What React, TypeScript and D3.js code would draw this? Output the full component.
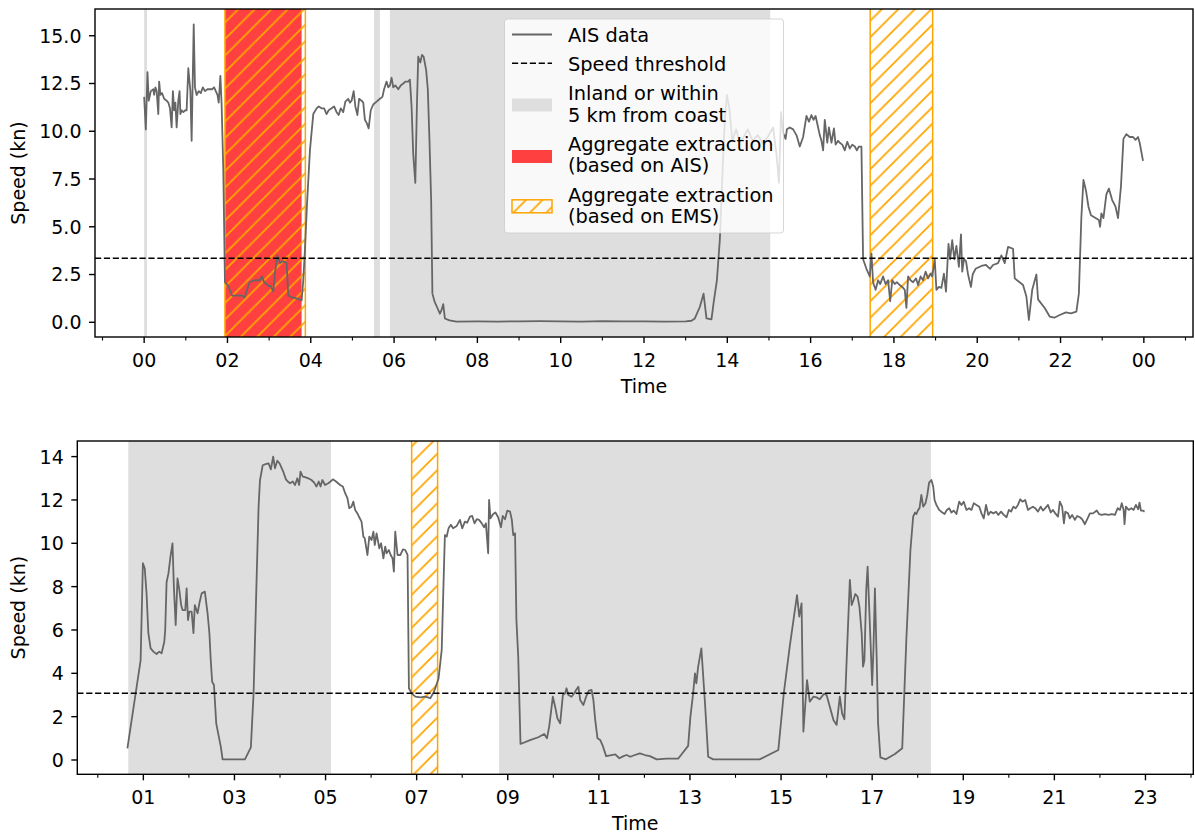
import React from "react";
import * as d3 from "d3";

// Ship speed from AIS over two days, with coastal zones and extraction windows.

const FONT = "DejaVu Sans, Verdana, sans-serif";
const FS = 19;
const DASH = "6.2 2.7";

// ---- day 1 (top panel) ----
const day1Speed: [number, number][] = [
  [0.0, 11.8], [0.04, 10.1], [0.08, 13.1], [0.11, 11.6], [0.16, 12.1], [0.22, 12.2], [0.24, 11.9],
  [0.27, 12.3], [0.3, 12.1], [0.34, 10.9], [0.36, 12.6], [0.39, 11.9], [0.43, 12.0], [0.48, 11.7],
  [0.54, 11.6], [0.58, 11.5], [0.62, 11.2], [0.66, 10.2], [0.69, 12.1], [0.72, 11.1], [0.75, 11.5],
  [0.78, 10.2], [0.82, 11.6], [0.85, 12.1], [0.87, 10.9], [0.9, 11.1], [0.94, 11.0], [0.99, 11.1],
  [1.02, 11.1], [1.06, 13.3], [1.11, 12.1], [1.14, 9.5], [1.19, 15.6], [1.22, 12.3], [1.26, 11.9],
  [1.31, 12.1], [1.36, 12.0], [1.41, 12.3], [1.46, 12.1], [1.52, 12.2], [1.58, 12.2], [1.63, 12.2],
  [1.68, 12.3], [1.72, 12.1], [1.76, 11.9], [1.79, 11.5], [1.83, 12.9], [1.86, 11.4], [1.9, 8.0],
  [1.94, 2.1], [2.02, 1.9], [2.11, 1.4], [2.21, 1.4], [2.35, 1.4], [2.41, 1.3], [2.53, 2.1],
  [2.65, 2.2], [2.77, 2.2], [2.83, 2.4], [2.88, 2.1], [2.94, 2.0], [2.99, 1.9], [3.04, 1.9],
  [3.1, 1.6], [3.14, 2.6], [3.2, 3.5], [3.26, 3.1], [3.33, 3.2], [3.42, 3.1], [3.46, 1.4],
  [3.55, 1.3], [3.66, 1.25], [3.78, 1.15], [3.82, 2.2], [3.86, 3.8], [3.91, 6.2], [3.98, 9.0],
  [4.06, 10.9], [4.14, 11.2], [4.19, 11.3], [4.26, 11.2], [4.32, 11.2], [4.38, 10.9], [4.43, 11.1],
  [4.5, 11.2], [4.56, 11.3], [4.62, 11.0], [4.67, 10.85], [4.72, 11.2], [4.78, 11.0], [4.83, 11.55],
  [4.9, 11.7], [4.94, 11.5], [4.98, 11.6], [5.03, 12.1], [5.07, 11.3], [5.12, 10.85], [5.16, 11.7],
  [5.22, 11.6], [5.26, 11.5], [5.3, 10.6], [5.35, 10.4], [5.39, 10.15], [5.44, 11.1], [5.5, 11.4],
  [5.58, 11.55], [5.66, 11.7], [5.72, 11.8], [5.76, 12.2], [5.82, 12.6], [5.86, 12.3], [5.9, 12.4],
  [5.94, 12.8], [5.98, 12.3], [6.03, 12.4], [6.1, 12.2], [6.16, 12.4], [6.22, 12.5], [6.27, 12.6],
  [6.34, 12.6], [6.38, 12.7], [6.42, 11.3], [6.46, 8.8], [6.51, 7.3], [6.55, 11.5], [6.58, 13.9],
  [6.63, 13.6], [6.67, 14.0], [6.71, 13.9], [6.77, 13.2], [6.81, 12.2], [6.85, 9.5], [6.89, 6.4],
  [6.92, 1.5], [6.97, 1.1], [7.03, 0.8], [7.1, 0.45], [7.14, 0.65], [7.18, 0.95], [7.22, 0.2],
  [7.33, 0.1], [7.5, 0.04], [8.0, 0.05], [8.5, 0.04], [9.0, 0.05], [9.5, 0.06], [10.0, 0.05],
  [10.5, 0.04], [11.0, 0.06], [11.5, 0.05], [12.0, 0.05], [12.5, 0.04], [13.0, 0.05], [13.14, 0.08],
  [13.22, 0.2], [13.34, 0.8], [13.43, 1.5], [13.5, 0.2], [13.62, 0.15], [13.67, 1.0], [13.75, 2.2],
  [13.82, 4.3], [13.88, 7.6], [13.94, 10.6], [13.99, 11.9], [14.05, 11.2], [14.12, 9.5], [14.21, 10.1],
  [14.29, 9.5], [14.37, 9.6], [14.49, 10.1], [14.61, 9.5], [14.73, 9.8], [14.85, 9.4], [14.97, 9.7],
  [15.1, 10.2], [15.18, 8.8], [15.24, 7.3], [15.29, 11.0], [15.34, 9.9], [15.4, 9.6], [15.43, 10.1],
  [15.5, 10.2], [15.58, 10.1], [15.66, 9.8], [15.74, 9.2], [15.82, 9.7], [15.9, 10.8], [15.96, 10.5],
  [16.02, 10.85], [16.07, 10.6], [16.12, 10.8], [16.18, 10.2], [16.22, 9.8], [16.26, 9.5], [16.3, 9.0],
  [16.34, 10.6], [16.4, 9.4], [16.44, 10.2], [16.5, 9.4], [16.56, 10.15], [16.6, 9.3], [16.66, 9.5],
  [16.7, 9.4], [16.76, 9.3], [16.82, 9.0], [16.88, 9.45], [16.94, 9.1], [17.0, 9.3], [17.06, 9.2],
  [17.11, 9.0], [17.16, 9.2], [17.22, 9.2], [17.26, 3.3], [17.34, 2.8], [17.42, 2.4], [17.46, 3.6],
  [17.5, 2.1], [17.56, 1.7], [17.62, 2.2], [17.67, 2.0], [17.74, 2.4], [17.8, 2.0], [17.86, 2.2],
  [17.91, 1.1], [17.96, 2.2], [18.02, 2.0], [18.07, 2.1], [18.14, 1.95], [18.2, 1.85], [18.26, 1.7],
  [18.3, 0.75], [18.34, 2.4], [18.4, 2.2], [18.46, 2.1], [18.53, 2.3], [18.58, 1.95], [18.64, 2.4],
  [18.7, 2.2], [18.76, 2.65], [18.82, 2.3], [18.88, 2.55], [18.92, 2.4], [18.98, 3.3], [19.02, 1.7],
  [19.08, 1.85], [19.14, 1.8], [19.2, 2.55], [19.25, 1.6], [19.31, 4.1], [19.35, 3.3], [19.4, 4.3],
  [19.45, 3.3], [19.5, 4.0], [19.56, 2.9], [19.61, 4.6], [19.64, 2.65], [19.68, 3.3], [19.73, 3.2],
  [19.78, 2.5], [19.85, 1.85], [19.89, 2.5], [19.96, 2.8], [20.1, 2.95], [20.21, 3.0], [20.31, 2.8],
  [20.38, 3.0], [20.5, 3.1], [20.58, 3.5], [20.66, 3.1], [20.74, 3.95], [20.86, 3.85], [20.9, 2.3],
  [21.1, 1.95], [21.18, 1.35], [21.24, 0.12], [21.32, 1.7], [21.42, 2.5], [21.46, 1.2], [21.62, 0.75],
  [21.74, 0.3], [21.85, 0.24], [21.98, 0.38], [22.13, 0.52], [22.25, 0.47], [22.38, 0.56], [22.44, 1.5],
  [22.5, 5.5], [22.55, 7.45], [22.61, 6.9], [22.67, 6.05], [22.73, 5.6], [22.81, 5.5], [22.92, 5.35],
  [22.95, 5.0], [22.98, 5.7], [23.03, 5.45], [23.1, 6.7], [23.16, 7.0], [23.24, 6.4], [23.32, 6.05],
  [23.38, 5.45], [23.45, 7.1], [23.51, 9.6], [23.58, 9.85], [23.66, 9.7], [23.74, 9.7], [23.8, 9.55],
  [23.86, 9.7], [23.9, 9.4], [23.98, 8.45],
];
const day1Coastal: [number, number][] = [[0.0, 0.07], [5.52, 5.66], [5.9, 15.03]];
const day1ExtractionAIS: [number, number][] = [[1.94, 3.78]];
const day1ExtractionEMS: [number, number][] = [[1.94, 3.87], [17.43, 18.93]];
const day1Threshold = 3.35;
const day1HourTicks = [0, 2, 4, 6, 8, 10, 12, 14, 16, 18, 20, 22, 24];
const day1HourLabels = ["00", "02", "04", "06", "08", "10", "12", "14", "16", "18", "20", "22", "00"];
const day1SpeedTicks = [0, 2.5, 5, 7.5, 10, 12.5, 15];
const day1SpeedLabels = ["0.0", "2.5", "5.0", "7.5", "10.0", "12.5", "15.0"];

// ---- day 2 (bottom panel) ----
const day2Speed: [number, number][] = [
  [0.65, 0.54], [0.94, 4.6], [0.99, 9.08], [1.03, 8.85], [1.07, 7.7], [1.11, 5.85], [1.16, 5.15],
  [1.22, 5.0], [1.29, 4.89], [1.35, 5.0], [1.4, 4.92], [1.46, 5.46], [1.48, 6.0], [1.51, 8.2],
  [1.55, 8.6], [1.6, 9.45], [1.64, 10.0], [1.67, 8.0], [1.71, 6.23], [1.75, 8.38], [1.79, 7.85],
  [1.83, 7.15], [1.86, 6.92], [1.92, 6.92], [1.95, 7.92], [1.98, 6.46], [2.01, 6.85], [2.06, 6.85],
  [2.1, 5.85], [2.13, 7.15], [2.19, 6.77], [2.23, 7.23], [2.28, 7.69], [2.35, 7.77], [2.41, 6.77],
  [2.45, 5.85], [2.48, 4.6], [2.51, 3.62], [2.55, 3.46], [2.6, 1.69], [2.65, 1.15], [2.7, 0.62],
  [2.74, 0.03], [2.98, 0.03], [3.23, 0.03], [3.36, 0.58], [3.42, 3.08], [3.48, 7.85], [3.53, 11.7],
  [3.56, 12.9], [3.62, 13.6], [3.7, 13.66], [3.75, 13.69], [3.8, 13.41], [3.85, 14.0], [3.89, 13.46],
  [3.94, 13.81], [3.99, 13.69], [4.04, 13.46], [4.07, 13.31], [4.13, 12.95], [4.17, 12.85],
  [4.22, 12.77], [4.28, 12.85], [4.33, 12.69], [4.38, 13.0], [4.42, 12.69], [4.45, 13.31], [4.5, 13.08],
  [4.55, 13.05], [4.62, 13.0], [4.69, 12.92], [4.75, 12.8], [4.8, 12.62], [4.85, 12.85], [4.89, 12.62],
  [4.93, 12.92], [4.99, 12.69], [5.06, 12.77], [5.11, 12.85], [5.16, 12.95], [5.23, 12.85],
  [5.32, 12.69], [5.38, 12.62], [5.43, 12.31], [5.48, 12.08], [5.52, 11.62], [5.57, 11.69],
  [5.61, 11.92], [5.65, 11.54], [5.7, 11.38], [5.74, 11.2], [5.79, 11.0], [5.83, 10.31], [5.86, 10.23],
  [5.92, 9.46], [5.96, 10.31], [6.01, 10.15], [6.05, 10.54], [6.08, 9.92], [6.12, 10.46], [6.18, 9.77],
  [6.22, 10.0], [6.27, 9.31], [6.31, 9.85], [6.34, 9.54], [6.39, 9.69], [6.43, 9.46], [6.47, 9.31],
  [6.5, 8.69], [6.53, 10.54], [6.58, 9.46], [6.64, 9.46], [6.7, 9.72], [6.75, 9.69], [6.8, 9.46],
  [6.83, 3.31], [6.89, 3.08], [6.97, 2.92], [7.08, 2.89], [7.19, 2.92], [7.3, 2.85], [7.38, 3.15],
  [7.48, 3.75], [7.55, 5.08], [7.59, 8.15], [7.62, 10.38], [7.66, 10.31], [7.7, 10.69], [7.75, 10.85],
  [7.8, 10.69], [7.88, 10.8], [7.95, 11.08], [8.0, 10.69], [8.06, 11.0], [8.11, 10.95], [8.17, 11.23],
  [8.22, 11.26], [8.27, 10.92], [8.32, 11.11], [8.37, 11.08], [8.43, 10.92], [8.48, 10.74],
  [8.52, 10.92], [8.57, 9.54], [8.59, 12.0], [8.62, 11.15], [8.68, 11.35], [8.73, 11.42], [8.79, 11.2],
  [8.85, 10.74], [8.89, 11.26], [8.94, 11.11], [8.99, 11.51], [9.05, 11.46], [9.09, 11.08],
  [9.12, 10.38], [9.16, 10.46], [9.19, 6.46], [9.23, 4.77], [9.28, 0.74], [9.49, 0.92], [9.67, 1.05],
  [9.8, 1.2], [9.86, 1.0], [9.91, 1.54], [9.99, 2.92], [10.04, 2.46], [10.09, 1.92], [10.15, 1.69],
  [10.21, 3.0], [10.26, 3.08], [10.29, 3.31], [10.33, 3.0], [10.4, 2.92], [10.46, 3.08], [10.5, 3.23],
  [10.55, 3.38], [10.59, 2.77], [10.66, 2.54], [10.72, 2.92], [10.78, 3.2], [10.84, 3.23],
  [10.88, 2.77], [10.92, 1.85], [10.97, 1.0], [11.03, 0.92], [11.08, 0.69], [11.16, 0.18],
  [11.28, 0.23], [11.36, 0.26], [11.45, 0.08], [11.54, 0.18], [11.61, 0.23], [11.69, 0.15],
  [11.79, 0.23], [11.9, 0.31], [12.01, 0.23], [12.12, 0.18], [12.27, 0.03], [12.49, 0.06],
  [12.74, 0.06], [12.96, 0.65], [13.01, 2.0], [13.07, 3.08], [13.11, 4.0], [13.14, 3.54], [13.18, 4.31],
  [13.25, 5.15], [13.33, 2.62], [13.4, 0.15], [13.51, 0.03], [14.53, 0.03], [14.94, 0.46], [15.06, 3.08],
  [15.19, 5.23], [15.35, 7.61], [15.4, 6.62], [15.45, 7.23], [15.49, 1.31], [15.57, 3.69], [15.63, 2.69],
  [15.71, 2.92], [15.78, 2.89], [15.85, 2.8], [15.94, 3.05], [16.0, 3.0], [16.07, 2.46], [16.15, 1.85],
  [16.22, 1.62], [16.29, 2.92], [16.34, 2.15], [16.39, 1.88], [16.44, 4.61], [16.51, 8.31],
  [16.55, 7.15], [16.59, 7.38], [16.63, 7.66], [16.68, 7.54], [16.72, 7.08], [16.77, 5.85],
  [16.8, 4.31], [16.83, 4.61], [16.87, 7.85], [16.9, 8.92], [16.94, 6.77], [17.0, 3.46], [17.03, 5.23],
  [17.06, 7.92], [17.1, 4.61], [17.13, 1.69], [17.18, 0.12], [17.3, 0.03], [17.5, 0.28], [17.66, 0.54],
  [17.75, 5.54], [17.84, 9.69], [17.9, 11.23], [17.94, 11.42], [17.97, 11.35], [18.01, 11.54],
  [18.04, 11.62], [18.08, 12.23], [18.12, 11.69], [18.17, 11.85], [18.21, 12.23], [18.25, 12.8],
  [18.3, 12.92], [18.34, 12.62], [18.37, 12.0], [18.41, 11.77], [18.47, 11.54], [18.54, 11.42],
  [18.59, 11.35], [18.64, 11.54], [18.69, 11.62], [18.74, 11.42], [18.79, 11.51], [18.85, 11.35],
  [18.91, 11.92], [18.96, 11.77], [19.01, 11.92], [19.07, 11.54], [19.13, 11.62], [19.18, 11.54],
  [19.23, 11.85], [19.29, 11.77], [19.35, 11.69], [19.4, 11.38], [19.45, 11.15], [19.5, 11.77],
  [19.55, 11.31], [19.6, 11.46], [19.66, 11.38], [19.72, 11.46], [19.77, 11.31], [19.83, 11.46],
  [19.89, 11.31], [19.95, 11.2], [20.0, 11.54], [20.05, 11.46], [20.1, 11.69], [20.15, 11.62],
  [20.2, 11.77], [20.25, 12.03], [20.3, 11.92], [20.36, 12.0], [20.42, 11.54], [20.47, 11.62],
  [20.53, 11.69], [20.58, 11.62], [20.64, 11.46], [20.7, 11.69], [20.75, 11.51], [20.8, 11.62],
  [20.86, 11.77], [20.92, 11.42], [20.97, 11.54], [21.02, 11.38], [21.08, 11.23], [21.12, 11.92],
  [21.17, 11.69], [21.21, 10.92], [21.24, 11.46], [21.3, 11.38], [21.34, 11.15], [21.39, 11.31],
  [21.45, 11.08], [21.5, 11.26], [21.56, 11.2], [21.61, 11.11], [21.67, 10.88], [21.73, 11.15],
  [21.78, 11.38], [21.85, 11.38], [21.93, 11.51], [21.98, 11.35], [22.04, 11.31], [22.11, 11.35],
  [22.19, 11.31], [22.26, 11.35], [22.33, 11.31], [22.39, 11.62], [22.44, 11.54], [22.48, 11.85],
  [22.52, 11.54], [22.54, 10.88], [22.57, 11.69], [22.63, 11.54], [22.69, 11.62], [22.74, 11.54],
  [22.79, 11.77], [22.84, 11.57], [22.87, 11.88], [22.9, 11.51], [22.94, 11.51], [22.98, 11.46],
];
const day2Coastal: [number, number][] = [[0.67, 5.12], [8.81, 18.29]];
const day2ExtractionAIS: [number, number][] = [];
const day2ExtractionEMS: [number, number][] = [[6.89, 7.46]];
const day2Threshold = 3.08;
const day2HourTicks = [1, 3, 5, 7, 9, 11, 13, 15, 17, 19, 21, 23];
const day2HourLabels = ["01", "03", "05", "07", "09", "11", "13", "15", "17", "19", "21", "23"];
const day2SpeedTicks = [0, 2, 4, 6, 8, 10, 12, 14];
const day2SpeedLabels = ["0", "2", "4", "6", "8", "10", "12", "14"];

const legendItems = [
  { kind: "line", lines: ["AIS data"] },
  { kind: "dash", lines: ["Speed threshold"] },
  { kind: "gray", lines: ["Inland or within", "5 km from coast"] },
  { kind: "red", lines: ["Aggregate extraction", "(based on AIS)"] },
  { kind: "hatch", lines: ["Aggregate extraction", "(based on EMS)"] },
];

const LINE = "#666666";
const GRAY = "#dedede";
const RED = "#ff4040";
const ORANGE = "#ffa500";

function Legend() {
  const rows = [
    { handleY: 34.5, baselines: [42.3] },
    { handleY: 63.3, baselines: [70.5] },
    { handleY: 105, baselines: [100, 121.7] },
    { handleY: 156.5, baselines: [150.7, 172.4] },
    { handleY: 206.3, baselines: [201.7, 223.4] },
  ];
  const hx0 = 512, hx1 = 552, tx = 568;
  return (
    <g>
      <rect x={504.5} y={19} width={279} height={214} rx={3}
        fill="#ffffff" fillOpacity={0.8} stroke="#cccccc" strokeOpacity={0.8} strokeWidth={1} />
      {legendItems.map((it, i) => {
        const r = rows[i];
        let handle: React.ReactNode = null;
        if (it.kind === "line")
          handle = <line x1={hx0} x2={hx1} y1={r.handleY} y2={r.handleY} stroke={LINE} strokeWidth={1.8} />;
        else if (it.kind === "dash")
          handle = <line x1={hx0} x2={hx1} y1={r.handleY} y2={r.handleY} stroke="#000" strokeWidth={1.4} strokeDasharray={DASH} />;
        else if (it.kind === "gray")
          handle = <rect x={hx0} y={r.handleY - 6.5} width={hx1 - hx0} height={13} fill={GRAY} />;
        else if (it.kind === "red")
          handle = <rect x={hx0} y={r.handleY - 6.5} width={hx1 - hx0} height={13} fill={RED} />;
        else
          handle = <rect x={hx0} y={r.handleY - 6.5} width={hx1 - hx0} height={13} fill="url(#hatch)" stroke={ORANGE} strokeWidth={1.5} />;
        return (
          <g key={i}>
            {handle}
            {it.lines.map((t, j) => (
              <text key={j} x={tx} y={r.baselines[j]} fontSize={19.4} fontFamily={FONT} fill="#000">{t}</text>
            ))}
          </g>
        );
      })}
    </g>
  );
}

type PanelProps = {
  id: string;
  speed: [number, number][];
  coastal: [number, number][];
  ais: [number, number][];
  ems: [number, number][];
  threshold: number;
  hourTicks: number[];
  hourLabels: string[];
  speedTicks: number[];
  speedLabels: string[];
  xDomain: [number, number];
  yDomain: [number, number];
  left: number;
  right: number;
  top: number;
  bottom: number;
  legend?: boolean;
};

function Panel(p: PanelProps) {
  const x = d3.scaleLinear().domain(p.xDomain).range([p.left, p.right]);
  const y = d3.scaleLinear().domain(p.yDomain).range([p.bottom, p.top]);
  const line = d3.line<[number, number]>().x((d) => x(d[0])).y((d) => y(d[1]));
  const minor = d3.range(Math.ceil(p.xDomain[0]), Math.floor(p.xDomain[1]) + 1)
    .filter((h) => !p.hourTicks.includes(h));
  const yTop = y.range()[1], yBot = y.range()[0];
  const clip = `clip-${p.id}`;
  return (
    <g>
      <defs>
        <clipPath id={clip}>
          <rect x={p.left} y={p.top} width={p.right - p.left} height={p.bottom - p.top} />
        </clipPath>
      </defs>
      <g clipPath={`url(#${clip})`}>
        {p.coastal.map(([a, b], i) => (
          <rect key={`c${i}`} x={x(a)} y={yTop} width={x(b) - x(a)} height={yBot - yTop} fill={GRAY} />
        ))}
        {p.ais.map(([a, b], i) => (
          <rect key={`a${i}`} x={x(a)} y={yTop} width={x(b) - x(a)} height={yBot - yTop} fill={RED} />
        ))}
        {p.ems.map(([a, b], i) => (
          <rect key={`e${i}`} x={x(a)} y={yTop - 2} width={x(b) - x(a)} height={yBot - yTop + 4}
            fill="url(#hatch)" stroke={ORANGE} strokeWidth={1.5} />
        ))}
        <path d={line(p.speed) || ""} fill="none" stroke={LINE} strokeWidth={1.8} strokeLinejoin="round" />
        <line x1={p.left} x2={p.right} y1={y(p.threshold)} y2={y(p.threshold)}
          stroke="#000" strokeWidth={1.4} strokeDasharray={DASH} />
      </g>
      {p.legend && <Legend />}
      <rect x={p.left} y={p.top} width={p.right - p.left} height={p.bottom - p.top}
        fill="none" stroke="#000" strokeWidth={1.4} />
      {p.hourTicks.map((h, i) => (
        <g key={`xt${i}`}>
          <line x1={x(h)} x2={x(h)} y1={p.bottom} y2={p.bottom + 6} stroke="#000" strokeWidth={1.4} />
          <text x={x(h)} y={p.bottom + 29.5} textAnchor="middle" fontSize={FS} fontFamily={FONT}>{p.hourLabels[i]}</text>
        </g>
      ))}
      {minor.map((h) => (
        <line key={`m${h}`} x1={x(h)} x2={x(h)} y1={p.bottom} y2={p.bottom + 3.5} stroke="#000" strokeWidth={1.1} />
      ))}
      {p.speedTicks.map((v, i) => (
        <g key={`yt${i}`}>
          <line x1={p.left - 6} x2={p.left} y1={y(v)} y2={y(v)} stroke="#000" strokeWidth={1.4} />
          <text x={p.left - 13.5} y={y(v) + 6.9} textAnchor="end" fontSize={FS} fontFamily={FONT}>{p.speedLabels[i]}</text>
        </g>
      ))}
      <text x={(p.left + p.right) / 2} y={p.bottom + 56} textAnchor="middle" fontSize={FS} fontFamily={FONT}>Time</text>
      <text transform={`translate(24.5,${(p.top + p.bottom) / 2}) rotate(-90)`} textAnchor="middle"
        fontSize={FS} fontFamily={FONT}>Speed (kn)</text>
    </g>
  );
}

export default function App() {
  return (
    <svg width={1195} height={836} viewBox="0 0 1195 836"
      style={{ position: "absolute", left: 0, top: 0, background: "#fff" }}>
      <defs>
        <pattern id="hatch" patternUnits="userSpaceOnUse" width={16.5} height={16.5}>
          <path d="M0,16.5 L16.5,0 M-4,4 L4,-4 M12.5,20.5 L20.5,12.5" stroke={ORANGE} strokeWidth={1.8} />
        </pattern>
      </defs>
      <Panel id="d1" speed={day1Speed} coastal={day1Coastal} ais={day1ExtractionAIS} ems={day1ExtractionEMS}
        threshold={day1Threshold} hourTicks={day1HourTicks} hourLabels={day1HourLabels}
        speedTicks={day1SpeedTicks} speedLabels={day1SpeedLabels}
        xDomain={[-1.18, 25.18]} yDomain={[-0.77, 16.4]} left={95} right={1193} top={9} bottom={337} legend />
      <Panel id="d2" speed={day2Speed} coastal={day2Coastal} ais={day2ExtractionAIS} ems={day2ExtractionEMS}
        threshold={day2Threshold} hourTicks={day2HourTicks} hourLabels={day2HourLabels}
        speedTicks={day2SpeedTicks} speedLabels={day2SpeedLabels}
        xDomain={[-0.45, 24.05]} yDomain={[-0.66, 14.72]} left={77.3} right={1193.3} top={441} bottom={774.3} />
    </svg>
  );
}
